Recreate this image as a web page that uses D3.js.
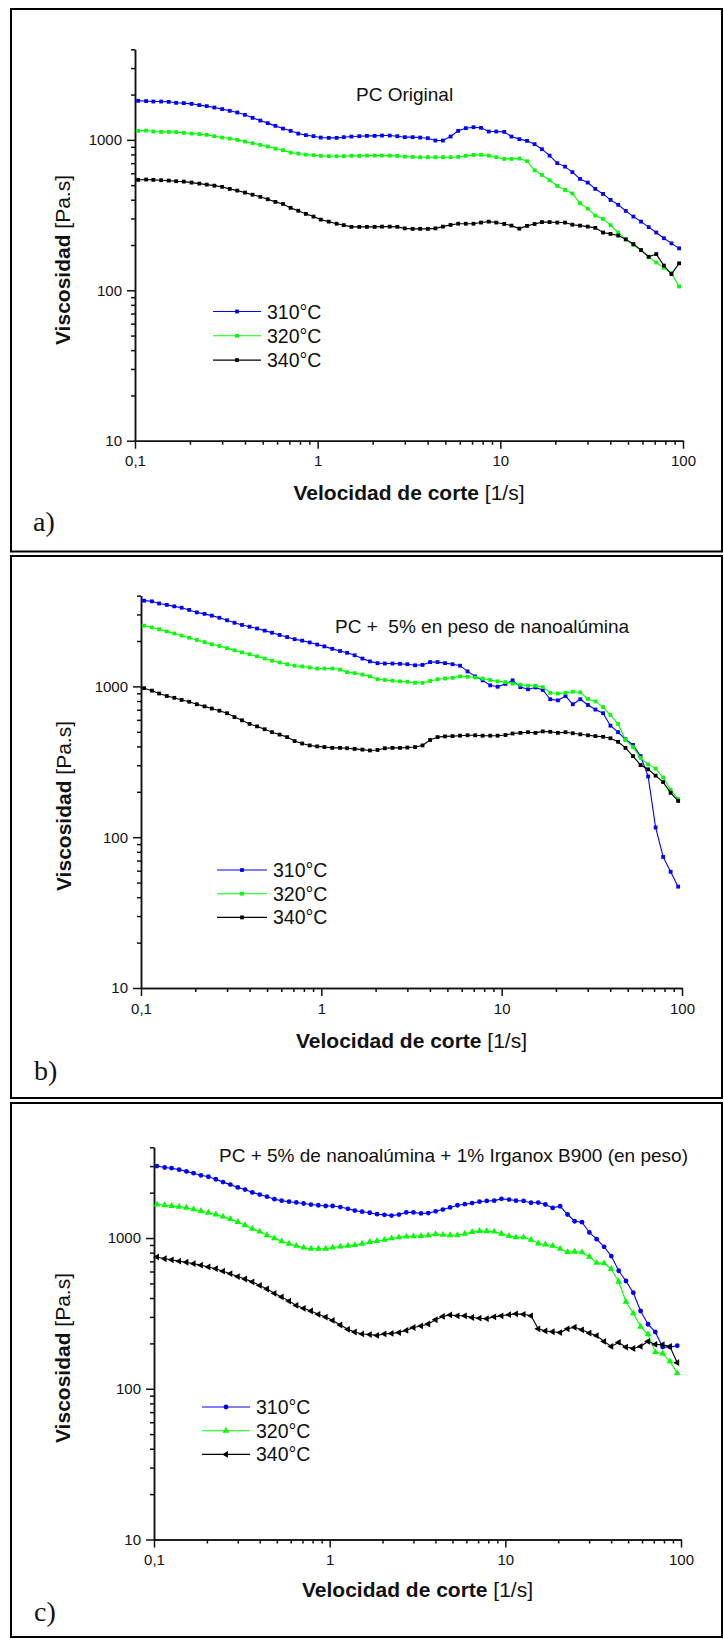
<!DOCTYPE html>
<html>
<head>
<meta charset="utf-8">
<script src="https://cdn.jsdelivr.net/npm/d3@7"></script>
<style>
  body { margin: 0; background: white; }
  svg text { font-family: "Liberation Sans", Arial, sans-serif; fill: #111; }
</style>
</head>
<body>
<script>
// shear rate [1/s], shared by every curve
const shearRate = [0.104, 0.115, 0.126, 0.139, 0.153, 0.168, 0.185, 0.204, 0.225, 0.247,
  0.272, 0.300, 0.330, 0.363, 0.400, 0.440, 0.485, 0.533, 0.587, 0.646,
  0.711, 0.783, 0.862, 0.949, 1.04, 1.15, 1.27, 1.39, 1.53, 1.69,
  1.86, 2.05, 2.25, 2.48, 2.73, 3.00, 3.31, 3.64, 4.01, 4.41,
  4.85, 5.34, 5.88, 6.47, 7.13, 7.84, 8.64, 9.50, 10.5, 11.5,
  12.7, 14.0, 15.4, 16.9, 18.6, 20.5, 22.6, 24.8, 27.3, 30.1,
  33.1, 36.5, 40.1, 44.2, 48.6, 53.5, 58.9, 64.9, 71.4, 78.6,
  86.5, 95.2];

const temps = ["310°C", "320°C", "340°C"];
const titles = ["PC Original", "PC +  5% en peso de nanoalúmina", "PC + 5% de nanoalúmina + 1% Irganox B900 (en peso)"];
const letters = ["a)", "b)", "c)"];

// viscosity [Pa.s]
const origT310 = [1818, 1810, 1798, 1798, 1790, 1763, 1755, 1736, 1702, 1676,
  1640, 1601, 1560, 1520, 1467, 1401, 1344, 1292, 1239, 1189,
  1148, 1101, 1075, 1058, 1036, 1031, 1031, 1042, 1052, 1058,
  1063, 1063, 1068, 1068, 1058, 1042, 1042, 1036, 1026, 990,
  990, 1052, 1148, 1196, 1214, 1202, 1136, 1136, 1130, 1052,
  1011, 985, 936, 867, 786, 700, 664, 610, 550, 520,
  472, 437, 399, 370, 337, 309, 286, 263, 242, 222,
  205, 190];
const origT320 = [1148, 1153, 1136, 1130, 1130, 1125, 1113, 1101, 1091, 1080,
  1058, 1036, 1020, 1000, 975, 950, 926, 903, 875, 854,
  823, 811, 798, 791, 783, 779, 779, 779, 783, 783,
  786, 786, 786, 786, 783, 774, 770, 767, 767, 767,
  767, 767, 770, 783, 795, 795, 786, 767, 747, 747,
  751, 721, 628, 585, 539, 494, 465, 440, 379, 349,
  314, 298, 271, 242, 218, 200, 185, 166, 153, 141,
  130, 106];
const origT340 = [542, 545, 542, 539, 536, 531, 528, 520, 512, 504,
  496, 487, 472, 460, 446, 432, 418, 403, 387, 375,
  353, 338, 322, 309, 295, 286, 277, 271, 264, 264,
  264, 264, 265, 265, 264, 258, 256, 256, 256, 258,
  265, 272, 277, 277, 277, 282, 286, 282, 276, 269,
  257, 268, 276, 284, 284, 282, 282, 273, 269, 265,
  260, 242, 237, 231, 218, 203, 185, 167, 174, 146,
  128, 151];

const aluT310 = [3704, 3664, 3546, 3470, 3395, 3322, 3215, 3094, 3027, 2945,
  2851, 2744, 2641, 2556, 2487, 2420, 2343, 2268, 2194, 2123,
  2055, 2011, 1956, 1894, 1842, 1774, 1717, 1670, 1608, 1530,
  1465, 1426, 1418, 1418, 1411, 1403, 1380, 1388, 1449, 1449,
  1426, 1403, 1372, 1257, 1165, 1097, 1016, 995, 1039, 1097,
  989, 957, 984, 947, 822, 808, 863, 761, 822, 753,
  702, 664, 549, 497, 446, 409, 345, 253, 116, 74,
  59, 47];
const aluT320 = [2528, 2460, 2394, 2317, 2242, 2170, 2101, 2032, 1967, 1904,
  1853, 1793, 1735, 1680, 1635, 1582, 1530, 1481, 1441, 1403,
  1372, 1357, 1335, 1314, 1314, 1314, 1292, 1244, 1224, 1198,
  1165, 1115, 1103, 1091, 1080, 1074, 1056, 1056, 1085, 1115,
  1127, 1140, 1165, 1159, 1146, 1127, 1103, 1080, 1068, 1044,
  1027, 1011, 1011, 989, 906, 897, 906, 922, 912, 826,
  795, 729, 646, 564, 441, 396, 336, 304, 285, 249,
  206, 179];
const aluT340 = [973, 937, 897, 863, 840, 813, 791, 761, 737, 713,
  690, 664, 626, 596, 564, 543, 520, 497, 479, 461,
  434, 418, 406, 400, 396, 391, 391, 389, 385, 381,
  376, 379, 389, 391, 391, 393, 396, 406, 441, 461,
  466, 468, 471, 474, 474, 471, 471, 471, 476, 487,
  492, 497, 492, 503, 500, 492, 497, 489, 481, 474,
  468, 463, 453, 429, 391, 345, 301, 282, 256, 232,
  197, 174];

const irgT310 = [3003, 2939, 2907, 2844, 2768, 2694, 2607, 2551, 2455, 2350,
  2262, 2167, 2097, 2008, 1943, 1881, 1810, 1771, 1742, 1723,
  1695, 1668, 1650, 1632, 1632, 1606, 1563, 1521, 1496, 1472,
  1440, 1425, 1409, 1432, 1480, 1480, 1456, 1464, 1504, 1546,
  1597, 1650, 1677, 1705, 1742, 1762, 1771, 1820, 1800, 1771,
  1762, 1714, 1720, 1669, 1585, 1626, 1433, 1293, 1274, 1089,
  983, 875, 759, 607, 519, 434, 328, 268, 238, 189,
  189, 193];
const irgT320 = [1668, 1650, 1632, 1615, 1588, 1554, 1512, 1472, 1432, 1387,
  1335, 1278, 1216, 1152, 1103, 1044, 995, 952, 917, 887,
  864, 849, 849, 849, 864, 878, 887, 897, 917, 942,
  957, 973, 995, 1011, 1022, 1027, 1033, 1039, 1062, 1050,
  1044, 1044, 1068, 1097, 1115, 1109, 1103, 1068, 1033, 1011,
  1011, 973, 921, 907, 888, 848, 807, 811, 803, 751,
  685, 679, 623, 513, 378, 317, 258, 230, 175, 171,
  152, 127];
const irgT340 = [749, 729, 717, 702, 691, 676, 661, 643, 626, 603,
  580, 555, 535, 512, 485, 459, 430, 407, 382, 357,
  342, 328, 312, 299, 284, 265, 248, 238, 231, 229,
  226, 231, 233, 236, 244, 255, 261, 269, 287, 302,
  309, 305, 305, 297, 294, 292, 300, 305, 310, 314,
  312, 305, 250, 242, 239, 236, 250, 256, 246, 234,
  225, 206, 191, 203, 189, 185, 191, 206, 197, 196,
  191, 149];

const xMajor = [0.1, 1, 10, 100];
const xMajorLabels = ["0,1", "1", "10", "100"];
const xMinor = [0.2, 0.3, 0.4, 0.5, 0.6, 0.7, 0.8, 0.9, 2, 3, 4, 5, 6, 7, 8, 9, 20, 30, 40, 50, 60, 70, 80, 90];
const yMajor = [10, 100, 1000];
const yMinor = [20, 30, 40, 50, 60, 70, 80, 90, 200, 300, 400, 500, 600, 700, 800, 900, 2000, 3000, 4000];

const colors = ["#0000ff", "#00ff00", "#000000"];

// layout of the three stacked panels
const panels = [
  { box: [11, 9, 722, 551.5], x0: 135, x1: 683, yTop: 49.3, yBot: 440.7,
    title: [356, 100.5], legend: { x0: 213, x1: 261, tx: 267, y0: 311.5, dy: 24.3 },
    letter: [33, 531], xlabY: 500, ylabX: 70, ylabY: 260,
    markers: ["square", "square", "square"], series: [origT310, origT320, origT340] },
  { box: [11, 556, 722, 1098], x0: 141, x1: 682, yTop: 595.6, yBot: 988,
    title: [335, 633], legend: { x0: 217, x1: 267, tx: 273, y0: 870, dy: 23.7 },
    letter: [34, 1080], xlabY: 1048, ylabX: 71, ylabY: 806,
    markers: ["square", "square", "square"], series: [aluT310, aluT320, aluT340] },
  { box: [11, 1103, 722, 1637], x0: 154, x1: 681, yTop: 1147.3, yBot: 1539.5,
    title: [219, 1162], legend: { x0: 202, x1: 250, tx: 256, y0: 1407, dy: 23.7 },
    letter: [34, 1621], xlabY: 1597, ylabX: 70, ylabY: 1358,
    markers: ["circle", "triangle", "left"], series: [irgT310, irgT320, irgT340] }
];

const svg = d3.select("body").append("svg")
  .attr("width", 724)
  .attr("height", 1639);

function drawMarker(g, kind, cx, cy, color) {
  if (kind === "square") {
    g.append("rect").attr("x", cx - 1.9).attr("y", cy - 1.9)
      .attr("width", 3.8).attr("height", 3.8).attr("fill", color);
  } else if (kind === "circle") {
    g.append("circle").attr("cx", cx).attr("cy", cy).attr("r", 2.4).attr("fill", color);
  } else {
    g.append("path")
      .attr("d", d3.symbol(d3.symbolTriangle).size(20)())
      .attr("transform", `translate(${cx},${cy}) rotate(${kind === "left" ? -90 : 0})`)
      .attr("fill", color);
  }
}

panels.forEach((p, pi) => {
  const g = svg.append("g");

  // panel frame
  g.append("rect")
    .attr("x", p.box[0]).attr("y", p.box[1])
    .attr("width", p.box[2] - p.box[0]).attr("height", p.box[3] - p.box[1])
    .attr("fill", "none").attr("stroke", "#000").attr("stroke-width", 2);

  const x = d3.scaleLog().domain([0.1, 100]).range([p.x0, p.x1]);
  const y = d3.scaleLog().domain([10, 4000]).range([p.yBot, p.yTop]);

  // axes: major ticks with labels, minor ticks short
  const xAxis = g.append("g").attr("transform", `translate(0,${p.yBot})`)
    .call(d3.axisBottom(x).tickValues(xMajor).tickFormat((d, i) => xMajorLabels[i])
      .tickSize(8).tickSizeOuter(0).tickPadding(7));
  g.append("g").attr("transform", `translate(0,${p.yBot})`)
    .call(d3.axisBottom(x).tickValues(xMinor).tickFormat("").tickSize(4).tickSizeOuter(0));
  const yAxis = g.append("g").attr("transform", `translate(${p.x0},0)`)
    .call(d3.axisLeft(y).tickValues(yMajor).tickFormat(d => d)
      .tickSize(8).tickSizeOuter(0).tickPadding(5));
  g.append("g").attr("transform", `translate(${p.x0},0)`)
    .call(d3.axisLeft(y).tickValues(yMinor).tickFormat("").tickSize(4).tickSizeOuter(0));

  g.selectAll(".domain, .tick line").attr("stroke", "#111").attr("stroke-width", 1.5);
  [xAxis, yAxis].forEach(a => a.attr("font-size", 15).attr("font-family", null));
  g.selectAll(".tick text").attr("fill", "#111");

  // curves
  const line = d3.line().x(d => x(d[0])).y(d => y(d[1]));
  p.series.forEach((vals, si) => {
    const pts = shearRate.map((r, i) => [r, vals[i]]);
    g.append("path").datum(pts)
      .attr("d", line)
      .attr("fill", "none")
      .attr("stroke", colors[si])
      .attr("stroke-width", 1.1);
    const mg = g.append("g");
    pts.forEach(d => drawMarker(mg, p.markers[si], x(d[0]), y(d[1]), colors[si]));
  });

  // legend
  temps.forEach((t, si) => {
    const ly = p.legend.y0 + si * p.legend.dy;
    g.append("line")
      .attr("x1", p.legend.x0).attr("x2", p.legend.x1)
      .attr("y1", ly).attr("y2", ly)
      .attr("stroke", colors[si]).attr("stroke-width", 1.1);
    drawMarker(g, p.markers[si], (p.legend.x0 + p.legend.x1) / 2, ly, colors[si]);
    g.append("text")
      .attr("x", p.legend.tx).attr("y", ly + 7)
      .attr("font-size", 19.5)
      .text(t);
  });

  // title inside plot
  g.append("text")
    .attr("x", p.title[0]).attr("y", p.title[1])
    .attr("font-size", 19)
    .style("white-space", "pre")
    .text(titles[pi]);

  // axis titles
  const xl = g.append("text")
    .attr("x", (p.x0 + p.x1) / 2).attr("y", p.xlabY)
    .attr("text-anchor", "middle").attr("font-size", 21);
  xl.append("tspan").attr("font-weight", "bold").text("Velocidad de corte");
  xl.append("tspan").text(" [1/s]");

  const yl = g.append("text")
    .attr("transform", `translate(${p.ylabX},${p.ylabY}) rotate(-90)`)
    .attr("text-anchor", "middle").attr("font-size", 21);
  yl.append("tspan").attr("font-weight", "bold").text("Viscosidad");
  yl.append("tspan").text(" [Pa.s]");

  // panel letter
  g.append("text")
    .attr("x", p.letter[0]).attr("y", p.letter[1])
    .style("font-family", "'Liberation Serif', 'Times New Roman', serif")
    .attr("font-size", 28)
    .text(letters[pi]);
});
</script>
</body>
</html>
